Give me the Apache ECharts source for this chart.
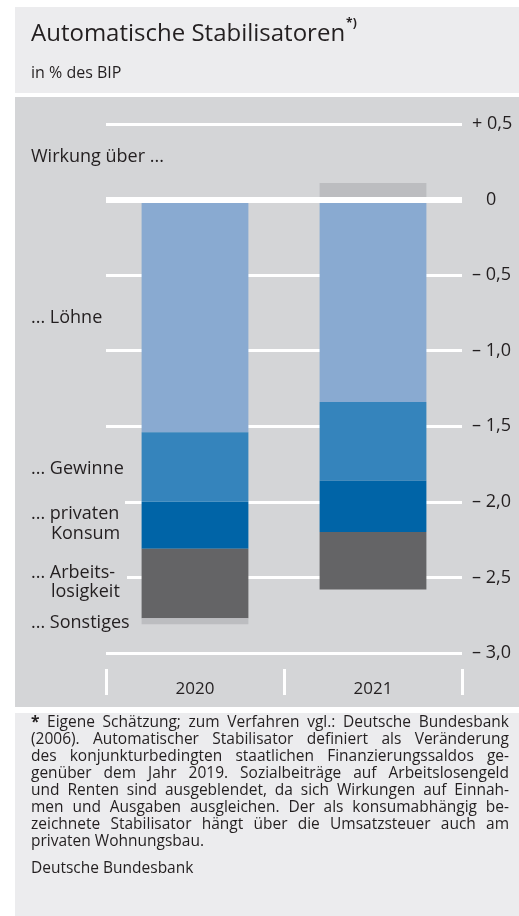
<!DOCTYPE html>
<html><head><meta charset="utf-8">
<script src="https://cdn.jsdelivr.net/npm/echarts@6/dist/echarts.min.js"></script>
<style>html,body{margin:0;padding:0;background:#fff}#c{width:519px;height:916px}</style>
</head><body><div id="c"></div>
<script>
// ---- data ----
const categories = ['2020', '2021'];
const loehne = [-1.54, -1.34];
const gewinne = [-0.46, -0.52];
const konsum = [-0.31, -0.34];
const arbeitslosigkeit = [-0.46, -0.38];
const sonstiges = [-0.04, 0.11];
const seriesNames = ['Löhne', 'Gewinne', 'privaten Konsum', 'Arbeitslosigkeit', 'Sonstiges'];
const yMin = -3.0, yMax = 0.5, yStep = 0.5;

const title = 'Automatische Stabilisatoren';
const subtitle = 'in % des BIP';
const footLines = [
  '* Eigene Schätzung; zum Verfahren vgl.: Deutsche Bundesbank',
  '(2006). Automatischer Stabilisator definiert als Veränderung',
  'des konjunkturbedingten staatlichen Finanzierungssaldos ge-',
  'genüber dem Jahr 2019. Sozialbeiträge auf Arbeitslosengeld',
  'und Renten sind ausgeblendet, da sich Wirkungen auf Einnah-',
  'men und Ausgaben ausgleichen. Der als konsumabhängig be-',
  'zeichnete Stabilisator hängt über die Umsatzsteuer auch am',
  'privaten Wohnungsbau.'
];
const source = 'Deutsche Bundesbank';

// ---- styles ----
const FONT = '"Open Sans", "Noto Sans", sans-serif';
const TXT = '#231f20';
const colors = ['#89aad1', '#3584bc', '#0064a7', '#646466', '#bcbdc0'];
const panelLight = '#ececee', panelDark = '#d4d5d7';

const chart = echarts.init(document.getElementById('c'), null, {renderer: 'canvas'});

const cv = document.createElement('canvas').getContext('2d');
function measure(t, size, weight) {
  cv.font = (weight || 'normal') + ' ' + size + 'px ' + FONT;
  return cv.measureText(t).width;
}

const graphics = [
  {type: 'rect', z: -5, shape: {x: 15, y: 7, width: 504, height: 86}, style: {fill: panelLight}},
  {type: 'rect', z: -5, shape: {x: 15, y: 97, width: 504, height: 610}, style: {fill: panelDark}},
  {type: 'rect', z: -5, shape: {x: 15, y: 713, width: 504, height: 203}, style: {fill: panelLight}},
  // gaps in grid lines behind labels
  {type: 'rect', z: 1, shape: {x: 100, y: 498, width: 25, height: 8}, style: {fill: panelDark}},
  {type: 'rect', z: 1, shape: {x: 100, y: 574, width: 27, height: 8}, style: {fill: panelDark}}
];
const TS = 24;
graphics.push({type: 'text', z: 5, x: 31, y: 34, style: {text: title, font: 'normal ' + TS + 'px ' + FONT, fill: TXT, textVerticalAlign: 'middle'}});
graphics.push({type: 'text', z: 5, x: 31 + measure(title, TS) + 1, y: 24, style: {text: '*)', font: 'bold 12px ' + FONT, fill: TXT, textVerticalAlign: 'middle'}});
graphics.push({type: 'text', z: 5, x: 31, y: 73, style: {text: subtitle, font: 'normal 16px ' + FONT, fill: TXT, textVerticalAlign: 'middle'}});

// left labels
const LS = 18;
const leftLabels = [
  ['Wirkung über ...', 31, 157],
  ['... ' + seriesNames[0], 31, 318],
  ['... ' + seriesNames[1], 31, 469],
  ['... privaten', 31, 514],
  ['Konsum', 51, 534],
  ['... Arbeits-', 31, 573],
  ['losigkeit', 51, 592],
  ['... ' + seriesNames[4], 31, 623]
];
leftLabels.forEach(function (l) {
  graphics.push({type: 'text', z: 5, x: l[1], y: l[2], style: {text: l[0], font: 'normal ' + LS + 'px ' + FONT, fill: TXT, textVerticalAlign: 'middle'}});
});

// footnote, justified
const FX0 = 31, FX1 = 509, FY0 = 723, FLH = 16.9;
let FS = 15.5;
(function () {
  for (let s = FS; s > 11; s -= 0.25) {
    let ok = true;
    footLines.forEach(function (line) {
      const words = line.split(' ');
      const sum = words.reduce(function (a, w) { return a + measure(w, s); }, 0);
      if (sum + (words.length - 1) * s * 0.22 > FX1 - FX0) ok = false;
    });
    FS = s;
    if (ok) return;
  }
})();
footLines.forEach(function (line, i) {
  const words = line.split(' ');
  const y = FY0 + i * FLH;
  const widths = words.map(function (w, k) { return measure(w, FS, (i === 0 && k === 0) ? 'bold' : 'normal'); });
  const sum = widths.reduce(function (a, b) { return a + b; }, 0);
  const last = i === footLines.length - 1;
  const gap = last ? measure(' ', FS) : (FX1 - FX0 - sum) / (words.length - 1);
  let x = FX0;
  words.forEach(function (w, k) {
    graphics.push({type: 'text', z: 5, x: x, y: y, style: {text: w, font: ((i === 0 && k === 0) ? 'bold ' : 'normal ') + FS + 'px ' + FONT, fill: TXT, textVerticalAlign: 'middle'}});
    x += widths[k] + gap;
  });
});
graphics.push({type: 'text', z: 5, x: FX0, y: 869, style: {text: source, font: 'normal ' + FS + 'px ' + FONT, fill: TXT, textVerticalAlign: 'middle'}});

const dataSets = [loehne, gewinne, konsum, arbeitslosigkeit, sonstiges];
const series = dataSets.map(function (d, i) {
  return {
    name: seriesNames[i], type: 'bar', stack: 'total', data: d, barWidth: '60%',
    itemStyle: {color: colors[i]}, silent: true
  };
});
series.push({
  type: 'line', data: [], z: 10, silent: true,
  markLine: {symbol: 'none', silent: true, label: {show: false},
    lineStyle: {color: '#ffffff', width: 6, type: 'solid'}, data: [{yAxis: 0}]}
});

chart.setOption({
  animation: false,
  backgroundColor: '#ffffff',
  textStyle: {fontFamily: FONT},
  grid: {left: 106, right: 57, top: 124, bottom: 263, containLabel: false},
  xAxis: {
    type: 'category', data: categories, position: 'bottom', offset: 16,
    axisLine: {show: false, onZero: false},
    axisTick: {show: true, length: 26, interval: 0, lineStyle: {color: '#ffffff', width: 3}},
    axisLabel: {color: TXT, fontSize: 17, margin: 12, fontFamily: FONT}
  },
  yAxis: {
    type: 'value', position: 'right', min: yMin, max: yMax, interval: yStep,
    axisLine: {show: false}, axisTick: {show: false},
    splitLine: {show: true, lineStyle: {color: '#ffffff', width: 3}},
    axisLabel: {
      color: TXT, fontSize: 18, margin: 10, fontFamily: FONT,
      formatter: function (v) {
        const r = Math.round(v * 10) / 10;
        if (r === 0) return '{z|0}';
        const s = Math.abs(r).toFixed(1).replace('.', ',');
        return (r > 0 ? '+ ' : '– ') + s;
      },
      rich: {z: {padding: [0, 0, 0, 14], fontSize: 18, color: TXT, fontFamily: FONT}}
    }
  },
  series: series,
  graphic: {elements: graphics}
});
</script></body></html>
